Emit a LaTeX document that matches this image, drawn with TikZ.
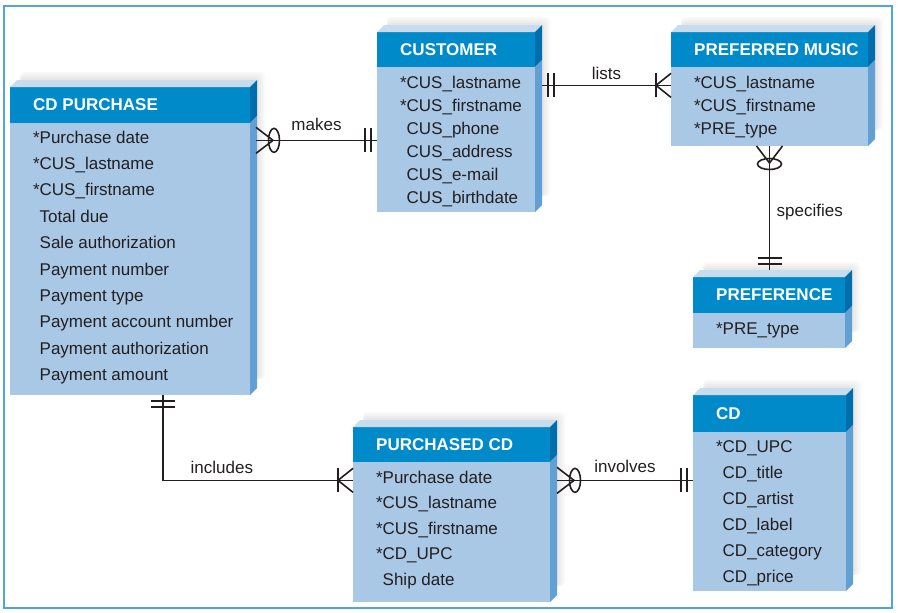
\documentclass[tikz,border=0pt]{standalone}
\usepackage{fontspec}
\setmainfont{Liberation Sans}
\usetikzlibrary{calc}

\definecolor{headblue}{RGB}{0,138,202}
\definecolor{bodyblue}{RGB}{168,200,230}
\definecolor{sidedark}{RGB}{0,110,172}
\definecolor{sidelight}{RGB}{98,160,212}
\definecolor{topface}{RGB}{200,220,237}
\definecolor{framecol}{RGB}{80,165,220}
\definecolor{ink}{RGB}{35,31,32}

\tikzset{
  headbox/.style={fill=headblue, anchor=north west, inner sep=0, outer sep=0},
  bodybox/.style={fill=bodyblue, anchor=north west, inner sep=0, outer sep=0},
  headtext/.style={anchor=west, inner sep=0, text=white, font=\bfseries\fontsize{17}{20}\selectfont},
  attrtext/.style={anchor=base west, inner sep=0, text=ink, font=\fontsize{17}{20}\selectfont},
  reltext/.style={text=ink, font=\fontsize{17}{20}\selectfont},
  link/.style={draw=ink, line width=1.6},
  zeromany/.pic={
    \draw[link] (0,-13) -- (17,0) -- (0,13);
    \draw[link] (18,0) ellipse [x radius=5.5, y radius=12];
  },
  onemany/.pic={
    \draw[link] (0,-12) -- (15,0) -- (0,12);
    \draw[link] (15,-12) -- (15,12);
  },
  oneone/.pic={
    \draw[link] (6,-12) -- (6,12);
    \draw[link] (12,-12) -- (12,12);
  }
}

% key attribute mark, hanging in the margin
\newcommand{\pk}{\llap{*}}

% entity box: name, x, y, width, head height, body height, title
\newcommand{\erbox}[7]{%
  \foreach \s in {2,4,6,8}
    \fill[black, opacity=0.025, rounded corners=4] ({#2+10},{#3+#5+#6-16}) rectangle ({#2+#4+7+\s},{#3-7-\s});
  \node[headbox, minimum width=#4, minimum height=#5] (#1) at (#2,#3) {};
  \node[bodybox, minimum width=#4, minimum height=#6] (#1-body) at (#1.south west) {};
  \fill[topface] (#1.north west) -- ++(7,-7) -- ++(#4,0) -- (#1.north east) -- cycle;
  \fill[sidedark] (#1.north east) -- ++(7,-7) -- ++(0,#5) -- (#1.south east) -- cycle;
  \fill[sidelight] (#1.south east) -- ++(7,-7) -- ++(0,#6) -- (#1-body.south east) -- cycle;
  \node[headtext] (#1-title) at ([xshift=23]#1.west) {#7};
}

% attribute rows: name, first baseline, row skip, rows
\newcommand{\erattrs}[4]{%
  \foreach \row [count=\i] in {#4}
    \node[attrtext] (#1-a\i) at ([shift={(29.5,{#2+(\i-1)*#3})}]#1-body.north west) {\row};
}

\begin{document}
\begin{tikzpicture}[x=1pt, y=-1pt]
    \useasboundingbox (0,0) rectangle (898,613);
    \draw[framecol, line width=1.6] (4,6) rectangle (892,608);

    % entities
    \erbox{cp}{10}{87}{240}{36}{272}{CD PURCHASE}
    \erattrs{cp}{20}{26.4}{\pk Purchase date, \pk CUS\_lastname, \pk CUS\_firstname,
      Total due, Sale authorization, Payment number, Payment type,
      Payment account number, Payment authorization, Payment amount}

    \erbox{cu}{377}{32}{158}{35}{145}{CUSTOMER}
    \erattrs{cu}{21}{23}{\pk CUS\_lastname, \pk CUS\_firstname, CUS\_phone,
      CUS\_address, CUS\_e-mail, CUS\_birthdate}

    \erbox{pm}{671}{32}{197}{35}{79}{PREFERRED MUSIC}
    \erattrs{pm}{21}{23}{\pk CUS\_lastname, \pk CUS\_firstname, \pk PRE\_type}

    \erbox{pf}{693}{277}{152}{36}{35}{PREFERENCE}
    \erattrs{pf}{21}{23}{\pk PRE\_type}

    \erbox{pcd}{353}{427}{197}{35}{140}{PURCHASED CD}
    \erattrs{pcd}{21}{25.5}{\pk Purchase date, \pk CUS\_lastname, \pk CUS\_firstname,
      \pk CD\_UPC, Ship date}

    \erbox{cd}{693}{395}{153}{37}{159}{CD}
    \erattrs{cd}{20}{26}{\pk CD\_UPC, CD\_title, CD\_artist, CD\_label,
      CD\_category, CD\_price}

    % relationships
    \coordinate (makes-a) at ($(cp-body.east |- cp-a1.mid)+(6,0)$);
    \coordinate (makes-b) at (cu-body.west |- makes-a);
    \draw[link] (makes-a) -- node[reltext, above=6pt] {makes} (makes-b);
    \pic at (makes-a) {zeromany};
    \pic[rotate=180] at (makes-b) {oneone};

    \coordinate (lists-a) at ($(cu-body.east |- cu-a1.mid)+(7,0)$);
    \coordinate (lists-b) at (pm-body.west |- lists-a);
    \draw[link] (lists-a) -- node[reltext, above=2pt] {lists} (lists-b);
    \pic at (lists-a) {oneone};
    \pic[rotate=180] at (lists-b) {onemany};

    \coordinate (spec-b) at ($(pf.north)+(0,-7)$);
    \draw[link] (pm-body.south) -- node[reltext, right=3pt, yshift=-4pt] {specifies} (pm-body.south |- spec-b);
    \pic[rotate=-90] at (pm-body.south) {zeromany};
    \pic[rotate=90] at (pm-body.south |- spec-b) {oneone};

    \coordinate (inc-a) at ($(cp-body.south west)+(153,0)$);
    \coordinate (inc-b) at (pcd-body.west |- pcd-a1.mid);
    \draw[link] (inc-a) |- node[reltext, pos=0.655, above=3pt] {includes} (inc-b);
    \pic[rotate=-90] at (inc-a) {oneone};
    \pic[rotate=180] at (inc-b) {onemany};

    \coordinate (inv-a) at ($(pcd-body.east |- pcd-a1.mid)+(7,0)$);
    \coordinate (inv-b) at (cd-body.west |- inv-a);
    \draw[link] (inv-a) -- node[reltext, above=4pt] {involves} (inv-b);
    \pic at (inv-a) {zeromany};
    \pic[rotate=180] at (inv-b) {oneone};
\end{tikzpicture}
\end{document}
